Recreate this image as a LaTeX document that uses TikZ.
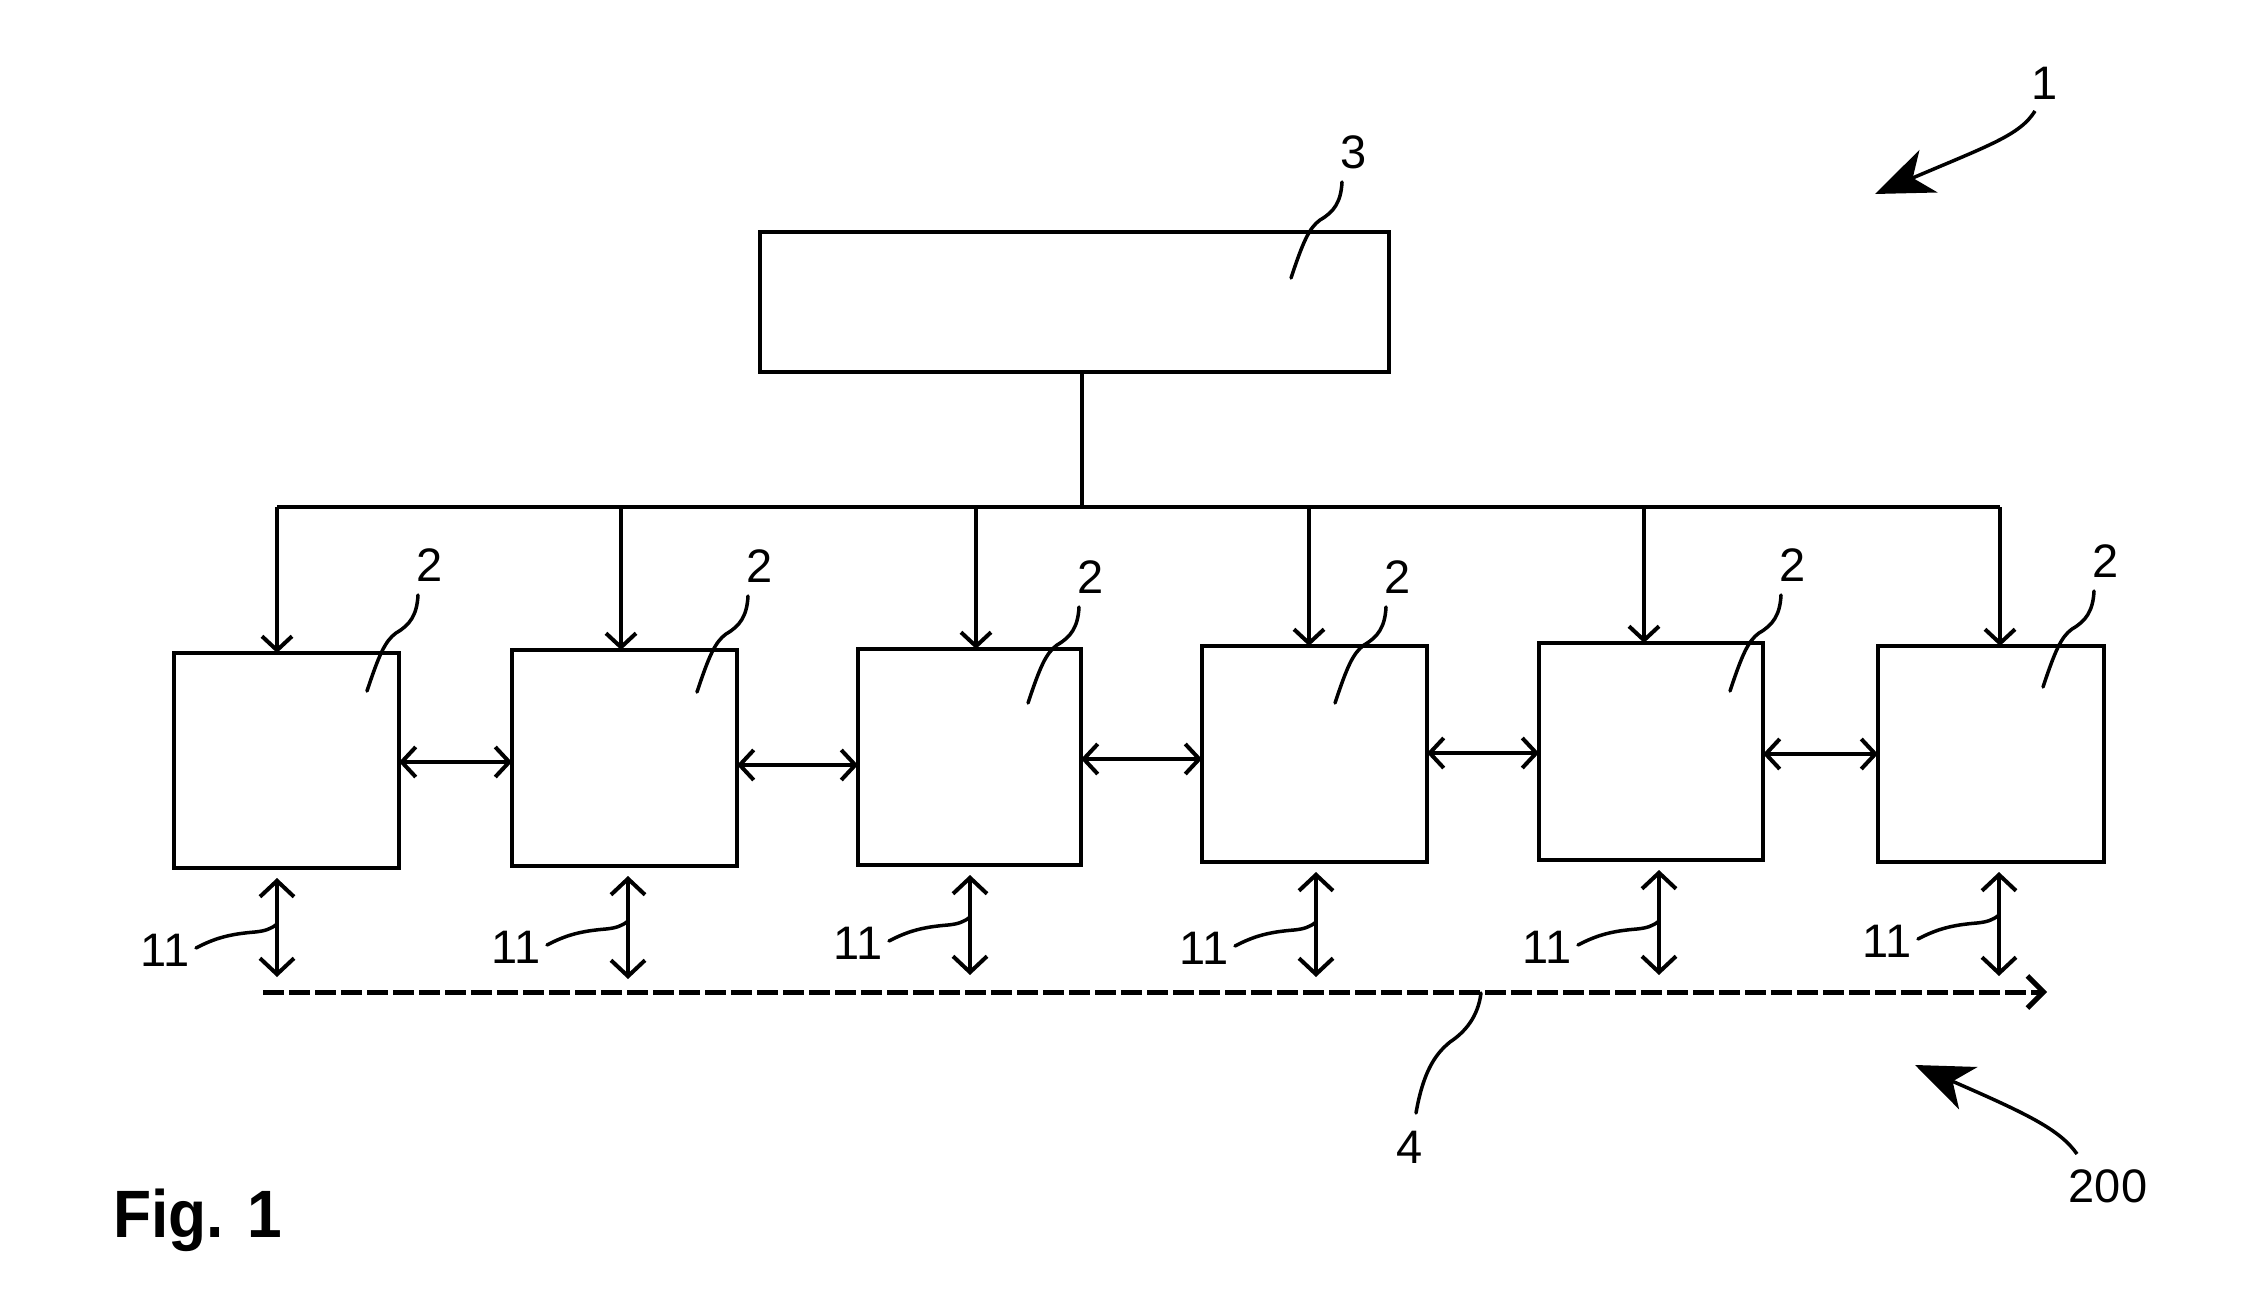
\documentclass[tikz,border=0pt]{standalone}
\usepackage{fontspec}
\setmainfont{Liberation Sans}
\usetikzlibrary{arrows.meta}
\newcommand{\myleader}[1]{\draw[lead] ([shift={(-12,30)}]#1.center) .. controls ([shift={(-13,50)}]#1.center) and ([shift={(-20,60)}]#1.center) .. ([shift={(-34,68)}]#1.center) .. controls ([shift={(-45,76)}]#1.center) and ([shift={(-51,90)}]#1.center) .. ([shift={(-63,126)}]#1.center);}
\newcommand{\myelev}[1]{\draw[lead] ([shift={(31,-2)}]#1.center) .. controls ([shift={(50,-12)}]#1.center) and ([shift={(65,-16)}]#1.center) .. ([shift={(90,-18)}]#1.center) .. controls ([shift={(100,-19)}]#1.center) and ([shift={(106,-21)}]#1.center) .. ([shift={(112,-26)}]#1.center);}
\begin{document}
\begin{tikzpicture}[x=1pt,y=-1pt,
  box/.style={draw,line width=4pt,inner sep=0pt,outer sep=0pt,anchor=north west},
  lbl/.style={inner sep=0pt,font=\fontsize{47}{50}\selectfont},
  lead/.style={line width=3.5pt,line cap=round},
  conn/.style={line width=4pt},
  barb/.style={conn,-{Straight Barb[length=14pt,width=30pt]}},
  dbarb/.style={conn,{Straight Barb[length=14pt,width=30pt]}-{Straight Barb[length=14pt,width=30pt]}},
  vbarb/.style={conn,{Straight Barb[length=16pt,width=34pt]}-{Straight Barb[length=16pt,width=34pt]}},
  bigarrow/.style={line width=3.5pt,-{Stealth[length=58pt,width=46pt,inset=17pt]}}
]
\useasboundingbox[fill=white] (0,0) rectangle (2260,1289);

% central unit
\node[box,minimum width=629pt,minimum height=140pt] (c) at (760,232) {};
\node[lbl] (l3) at (1354,152) {3};
\myleader{l3}

% modules
\node[box,minimum width=225pt,minimum height=215pt] (b1) at (174,653) {};
\node[box,minimum width=225pt,minimum height=216pt] (b2) at (512,650) {};
\node[box,minimum width=223pt,minimum height=216pt] (b3) at (858,649) {};
\node[box,minimum width=225pt,minimum height=216pt] (b4) at (1202,646) {};
\node[box,minimum width=224pt,minimum height=217pt] (b5) at (1539,643) {};
\node[box,minimum width=226pt,minimum height=216pt] (b6) at (1878,646) {};

% bus
\coordinate (stem) at (1082,507);
\coordinate (d1) at (277,507);
\coordinate (d2) at (621,507);
\coordinate (d3) at (976,507);
\coordinate (d4) at (1309,507);
\coordinate (d5) at (1644,507);
\coordinate (d6) at (2000,507);
\draw[conn] (c.south -| stem) -- (stem);
\draw[conn] (d1) -- (d6);
\foreach \i in {1,...,6}{\draw[barb] (d\i) -- (d\i |- b\i.north);}

% neighbour links
\draw[dbarb] (b1.east |- 0,762) -- (b2.west |- 0,762);
\draw[dbarb] (b2.east |- 0,765) -- (b3.west |- 0,765);
\draw[dbarb] (b3.east |- 0,759) -- (b4.west |- 0,759);
\draw[dbarb] (b4.east |- 0,753) -- (b5.west |- 0,753);
\draw[dbarb] (b5.east |- 0,754) -- (b6.west |- 0,754);

% labels 2
\node[lbl] (l1) at (430,565) {2};
\node[lbl] (l2) at (760,566) {2};
\node[lbl] (l3b) at (1091,577) {2};
\node[lbl] (l4) at (1398,577) {2};
\node[lbl] (l5) at (1793,565) {2};
\node[lbl] (l6) at (2106,561) {2};
\myleader{l1}\myleader{l2}\myleader{l3b}\myleader{l4}\myleader{l5}\myleader{l6}

% dashed line 4
\coordinate (ds) at (263,992);
\coordinate (de) at (2047,992);
\draw[line width=5pt,dash pattern=on 21pt off 5pt,-{Straight Barb[length=16pt,width=32pt]}] (ds) -- (de);

% vertical links 11
\coordinate (v1) at (277,977);
\coordinate (v2) at (628,979);
\coordinate (v3) at (970,975);
\coordinate (v4) at (1316,977);
\coordinate (v5) at (1659,975);
\coordinate (v6) at (1999,976);
\foreach \i in {1,...,6}{\draw[vbarb] (v\i |- b\i.south) ++(0,10) -- (v\i);}
\node[lbl] (e1) at (165,950) {11};
\node[lbl] (e2) at (516,947) {11};
\node[lbl] (e3) at (858,943) {11};
\node[lbl] (e4) at (1204,948) {11};
\node[lbl] (e5) at (1547,947) {11};
\node[lbl] (e6) at (1887,941) {11};
\foreach \i in {1,...,6}{\myelev{e\i}}

% label 4
\node[lbl] (l4d) at (1410,1147) {4};
\draw[lead] ([shift={(71,-154)}]l4d.center) .. controls ([shift={(68,-130)}]l4d.center) and ([shift={(55,-115)}]l4d.center) .. ([shift={(40,-105)}]l4d.center) .. controls ([shift={(28,-95)}]l4d.center) and ([shift={(14,-80)}]l4d.center) .. ([shift={(6,-34)}]l4d.center);

% arrow 1
\node[lbl] (n1) at (2045,83) {1};
\coordinate (a1s) at (2035,111);
\coordinate (a1e) at (1875,194);
\draw[bigarrow] (a1s) .. controls (2020,135) and (1990,145) .. (a1e);

% arrow 200
\node[lbl] (n200) at (2108,1186) {200};
\coordinate (a2s) at (2077,1154);
\coordinate (a2e) at (1915,1065);
\draw[bigarrow] (a2s) .. controls (2060,1130) and (2030,1115) .. (a2e);

% figure caption
\node[inner sep=0pt,anchor=base west,xscale=0.93,font=\fontsize{67}{70}\selectfont\bfseries] (fig) at (113,1237) {Fig. 1};
\end{tikzpicture}
\end{document}
